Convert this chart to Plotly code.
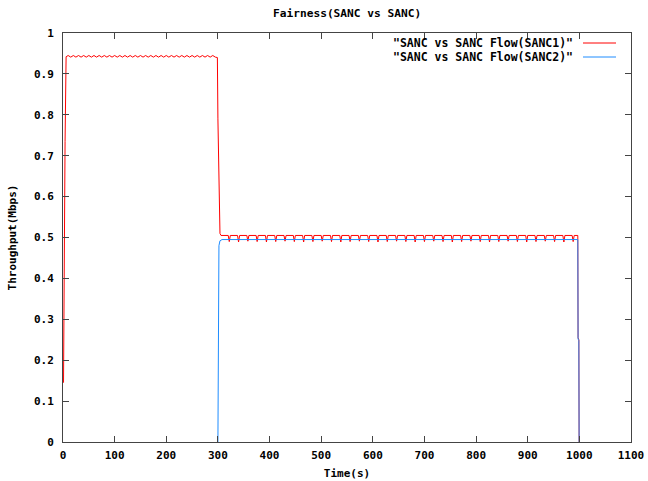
import plotly.graph_objects as go

# ---------------- data ----------------
# Flow SANC1 (red)
red_time = [
    1, 2, 4, 6,
    10, 15, 20, 25, 30, 35, 40, 45, 50, 55, 60, 65, 70, 75, 80, 85, 90, 95,
    100, 105, 110, 115, 120, 125, 130, 135, 140, 145, 150, 155, 160, 165, 170, 175,
    180, 185, 190, 195, 200, 205, 210, 215, 220, 225, 230, 235, 240, 245, 250, 255,
    260, 265, 270, 275, 280, 285, 290, 295,
    299, 300, 301, 302, 303, 304, 306,
    320, 322, 324, 338, 340, 342, 356, 358, 360, 374, 376, 378, 392, 394, 396,
    410, 412, 414, 428, 430, 432, 446, 448, 450, 464, 466, 468, 482, 484, 486,
    500, 502, 504, 518, 520, 522, 536, 538, 540, 554, 556, 558, 572, 574, 576,
    590, 592, 594, 608, 610, 612, 626, 628, 630, 644, 646, 648, 662, 664, 666,
    680, 682, 684, 698, 700, 702, 716, 718, 720, 734, 736, 738, 752, 754, 756,
    770, 772, 774, 788, 790, 792, 806, 808, 810, 824, 826, 828, 842, 844, 846,
    860, 862, 864, 878, 880, 882, 896, 898, 900, 914, 916, 918, 932, 934, 936,
    950, 952, 954, 968, 970, 972, 986, 988, 990,
    997, 997.5, 999, 999.5,
]
red_thr = [
    0.145, 0.455, 0.735, 0.942,
    0.945, 0.941, 0.945, 0.941, 0.945, 0.941, 0.945, 0.941, 0.945, 0.941, 0.945, 0.941,
    0.945, 0.941, 0.945, 0.941, 0.945, 0.941, 0.945, 0.941, 0.945, 0.941, 0.945, 0.941,
    0.945, 0.941, 0.945, 0.941, 0.945, 0.941, 0.945, 0.941, 0.945, 0.941, 0.945, 0.941,
    0.945, 0.941, 0.945, 0.941, 0.945, 0.941, 0.945, 0.941, 0.945, 0.941, 0.945, 0.941,
    0.945, 0.941, 0.945, 0.941, 0.945, 0.941, 0.945, 0.941, 0.945, 0.941,
    0.940, 0.790, 0.720, 0.600, 0.530, 0.510, 0.505,
    0.505, 0.490, 0.505, 0.505, 0.489, 0.505, 0.505, 0.491, 0.505, 0.505, 0.490, 0.505, 0.505, 0.489, 0.505,
    0.505, 0.490, 0.505, 0.505, 0.491, 0.505, 0.505, 0.490, 0.505, 0.505, 0.489, 0.505, 0.505, 0.490, 0.505,
    0.505, 0.491, 0.505, 0.505, 0.490, 0.505, 0.505, 0.489, 0.505, 0.505, 0.490, 0.505, 0.505, 0.491, 0.505,
    0.505, 0.490, 0.505, 0.505, 0.489, 0.505, 0.505, 0.490, 0.505, 0.505, 0.491, 0.505, 0.505, 0.490, 0.505,
    0.505, 0.489, 0.505, 0.505, 0.490, 0.505, 0.505, 0.491, 0.505, 0.505, 0.490, 0.505, 0.505, 0.489, 0.505,
    0.505, 0.490, 0.505, 0.505, 0.491, 0.505, 0.505, 0.490, 0.505, 0.505, 0.489, 0.505, 0.505, 0.490, 0.505,
    0.505, 0.491, 0.505, 0.505, 0.490, 0.505, 0.505, 0.489, 0.505, 0.505, 0.490, 0.505, 0.505, 0.491, 0.505,
    0.505, 0.490, 0.505, 0.505, 0.489, 0.505, 0.505, 0.490, 0.505,
    0.505, 0.255, 0.250, 0.0,
]

# Flow SANC2 (blue)
blue_time = [300, 302, 304, 308, 997, 997.5, 999, 999.5]
blue_thr = [0.0, 0.480, 0.492, 0.495, 0.495, 0.252, 0.248, 0.0]

series_names = ['"SANC vs SANC Flow(SANC1)"', '"SANC vs SANC Flow(SANC2)"']
series_colors = ["#ff0000", "#1e8cff"]

x_ticks = [0, 100, 200, 300, 400, 500, 600, 700, 800, 900, 1000, 1100]
y_ticks = [0, 0.1, 0.2, 0.3, 0.4, 0.5, 0.6, 0.7, 0.8, 0.9, 1]

title_text = "Fairness(SANC vs SANC)"
x_title = "Time(s)"
y_title = "Throughput(Mbps)"

# ---------------- figure ----------------
FONT = "DejaVu Sans Mono"
PLOT_H = 481 - 33 - 39
fig = go.Figure()
fig.add_trace(go.Scatter(x=red_time, y=red_thr, mode="lines", name=series_names[0],
                         line=dict(color=series_colors[0], width=1), showlegend=False))
fig.add_trace(go.Scatter(x=blue_time, y=blue_thr, mode="lines", name=series_names[1],
                         line=dict(color=series_colors[1], width=1), showlegend=False))

axis_common = dict(
    showgrid=False, zeroline=False, showline=True, linecolor="#444", linewidth=1,
    mirror="ticks", ticks="inside", ticklen=6, tickcolor="#444", tickwidth=1,
    automargin=False,
    tickfont=dict(family=FONT, size=11, color="#000", weight="bold"),
)
fig.update_xaxes(range=[0, 1100], tickvals=x_ticks, ticktext=[str(v) for v in x_ticks],
                 ticklabelstandoff=3,
                 title=dict(text=x_title, font=dict(family=FONT, size=11, color="#000", weight="bold"),
                            standoff=8),
                 **axis_common)
fig.update_yaxes(range=[0, 1], tickvals=y_ticks, ticktext=[f"{v:g}" for v in y_ticks],
                 ticklabelstandoff=6,
                 title=dict(text=y_title, font=dict(family=FONT, size=11, color="#000", weight="bold"),
                            standoff=15),
                 **axis_common)

# gnuplot-style legend (text right-aligned, sample line to the right)
legend_rows_px = [43, 57]
for name, color, py in zip(series_names, series_colors, legend_rows_px):
    yy = (481 - 39 - py) / PLOT_H
    fig.add_annotation(xref="paper", yref="paper", x=0.9014, y=yy, xanchor="right", yanchor="middle",
                       text=name, showarrow=False,
                       font=dict(family=FONT, size=11.5, color="#000", weight="bold"))
    fig.add_shape(type="line", xref="paper", yref="paper", x0=0.9155, x1=0.9736, y0=yy, y1=yy,
                  line=dict(color=color, width=1))

fig.add_annotation(xref="paper", yref="paper", x=0.5, y=1 + 20 / PLOT_H, xanchor="center",
                   yanchor="middle", text=title_text, showarrow=False,
                   font=dict(family=FONT, size=11.2, color="#000", weight="bold"))

fig.update_layout(
    width=648, height=481,
    margin=dict(l=63, r=17, t=33, b=39, autoexpand=False),
    paper_bgcolor="white", plot_bgcolor="white",
)

fig.write_html("out.html", config={"displayModeBar": False},
               post_script="document.body.style.margin='0';document.body.style.overflow='hidden';")
